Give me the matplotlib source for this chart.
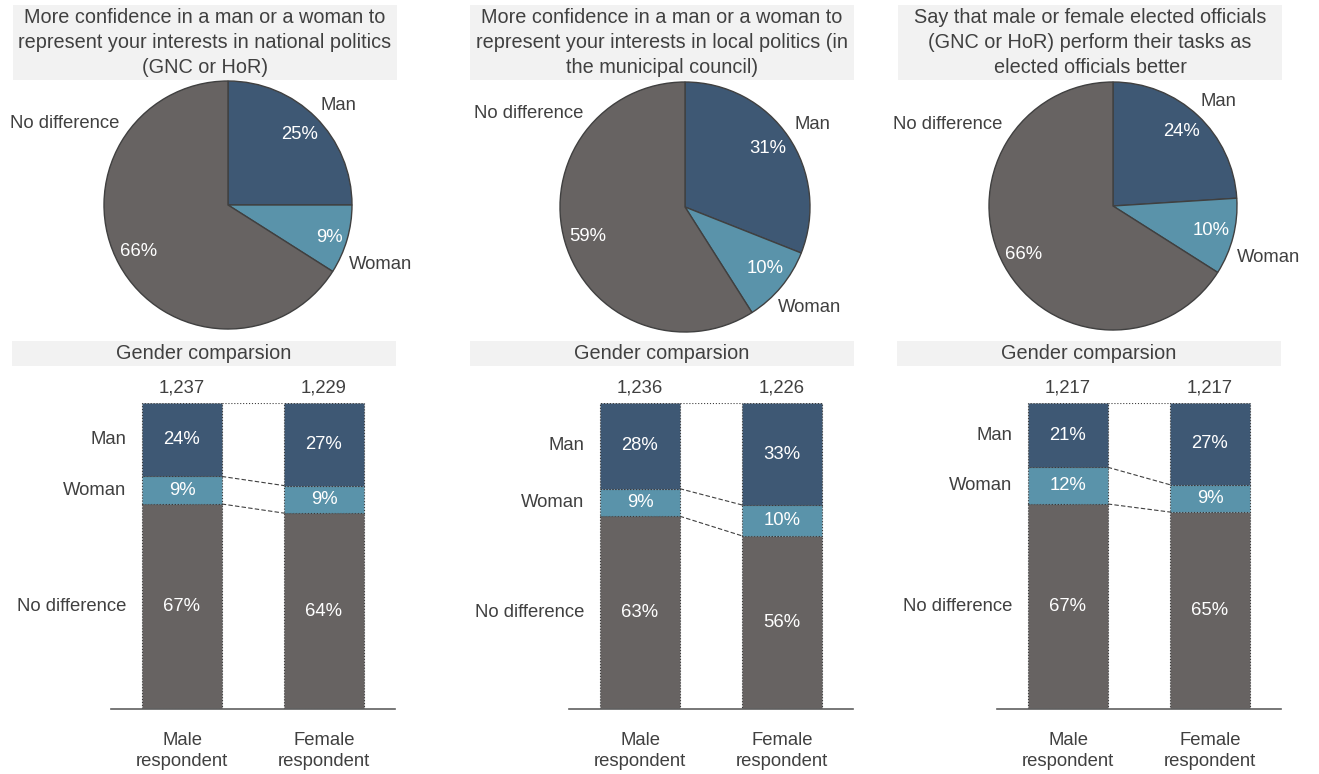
import matplotlib
matplotlib.use("Agg")
import matplotlib.pyplot as plt
from matplotlib.patches import Rectangle
import numpy as np

# ---------------- data ----------------
pie_titles = [
    "More confidence in a man or a woman to\nrepresent your interests in national politics\n(GNC or HoR)",
    "More confidence in a man or a woman to\nrepresent your interests in local politics (in\nthe municipal council)",
    "Say that male or female elected officials\n(GNC or HoR) perform their tasks as\nelected officials better",
]
bar_title = "Gender comparsion"
categories = ["Man", "Woman", "No difference"]
pie_man = [25, 31, 24]
pie_woman = [9, 10, 10]
pie_nodiff = [66, 59, 66]

groups = ["Male\nrespondent", "Female\nrespondent"]
male_man = [24, 28, 21]
male_woman = [9, 9, 12]
male_nodiff = [67, 63, 67]
female_man = [27, 33, 27]
female_woman = [9, 10, 9]
female_nodiff = [64, 56, 65]
male_n = ["1,237", "1,236", "1,217"]
female_n = ["1,229", "1,226", "1,217"]

# ---------------- style ----------------
W, H = 1319, 774
C_MAN = "#3e5874"
C_WOMAN = "#5a93aa"
C_NODIFF = "#676362"
TXT = "#404040"
BOX = "#f2f2f2"
FS = 13.3
plt.rcParams["font.family"] = ["Liberation Sans", "DejaVu Sans"]

fig = plt.figure(figsize=(W / 100, H / 100), dpi=100)

def fig_box(x0, y0, x1, y1):
    fig.add_artist(Rectangle((x0 / W, 1 - y1 / H), (x1 - x0) / W, (y1 - y0) / H,
                             transform=fig.transFigure, facecolor=BOX,
                             edgecolor="none", zorder=0))

# layout (pixels)
title_boxes = [(13, 5, 397), (470, 5, 854), (898, 5, 1282)]
bar_boxes = [(12, 341, 396), (470, 341, 854), (897, 341, 1281)]
pie_centers = [(228, 205, 124), (685, 207, 125), (1113, 206, 124)]
axis_x = [111, 569, 997]
bar_bottom, bar_top = 709, 403

# label positions in pie data coords: (name pos, pct pos) for Man, Woman, No difference
pie_label_pos = [
    [((0.887, 0.806), (0.58, 0.565)), ((1.234, -0.476), (0.815, -0.266)), ((-1.32, 0.66), (-0.718, -0.379))],
    [((1.016, 0.656), (0.664, 0.464)), ((1.0, -0.808), (0.64, -0.496)), ((-1.248, 0.744), (-0.776, -0.24))],
    [((0.847, 0.839), (0.556, 0.597)), ((1.258, -0.419), (0.79, -0.2)), ((-1.331, 0.661), (-0.718, -0.395))],
]

for i in range(3):
    # ----- pie title -----
    x0, y0, x1 = title_boxes[i]
    fig_box(x0, y0, x1, 80)
    fig.text((x0 + x1) / 2 / W, 1 - 42.5 / H, pie_titles[i], ha="center", va="center",
             fontsize=14.3, color=TXT, linespacing=1.38)

    # ----- pie -----
    cx, cy, r = pie_centers[i]
    ax = fig.add_axes([(cx - r) / W, 1 - (cy + r) / H, 2 * r / W, 2 * r / H])
    vals = [pie_man[i], pie_woman[i], pie_nodiff[i]]
    ax.pie(vals, colors=[C_MAN, C_WOMAN, C_NODIFF], startangle=90, counterclock=False,
           wedgeprops=dict(edgecolor="#404040", linewidth=1.0))
    ax.set_xlim(-1, 1)
    ax.set_ylim(-1, 1)
    ax.set_aspect("equal", adjustable="box")
    ax.axis("off")
    for k, cat in enumerate(categories):
        (lx, ly), (px, py) = pie_label_pos[i][k]
        ax.text(lx, ly, cat, ha="center", va="center", fontsize=FS, color=TXT, clip_on=False)
        ax.text(px, py, f"{vals[k]}%", ha="center", va="center", fontsize=FS, color="white")

    # ----- bar title -----
    bx0, by0, bx1 = bar_boxes[i]
    fig_box(bx0, by0, bx1, 366)
    fig.text((bx0 + bx1) / 2 / W, 1 - 353.5 / H, bar_title, ha="center", va="center",
             fontsize=14.3, color=TXT)

    # ----- stacked bars -----
    axb = fig.add_axes([axis_x[i] / W, 1 - bar_bottom / H, 284 / W, (bar_bottom - bar_top) / H])
    x = np.arange(2)
    man = np.array([male_man[i], female_man[i]], dtype=float)
    wom = np.array([male_woman[i], female_woman[i]], dtype=float)
    nod = np.array([male_nodiff[i], female_nodiff[i]], dtype=float)
    tot = man + wom + nod
    man_s, wom_s, nod_s = man / tot * 100, wom / tot * 100, nod / tot * 100
    width = 0.56
    kw = dict(width=width, edgecolor="#3a3a3a", linewidth=0.8, linestyle=":")
    axb.bar(x, nod_s, color=C_NODIFF, **kw)
    axb.bar(x, wom_s, bottom=nod_s, color=C_WOMAN, **kw)
    axb.bar(x, man_s, bottom=nod_s + wom_s, color=C_MAN, **kw)

    # connector lines
    b1 = nod_s
    b2 = nod_s + wom_s
    b3 = nod_s + wom_s + man_s
    xl = [x[0] + width / 2, x[1] - width / 2]
    axb.plot(xl, b1, color="#404040", lw=0.8, ls=(0, (4, 2)))
    axb.plot(xl, b2, color="#404040", lw=0.8, ls=(0, (4, 2)))
    axb.plot(xl, b3, color="#404040", lw=0.8, ls=":")

    # value labels
    for j in range(2):
        axb.text(x[j], nod_s[j] / 2, f"{int(nod[j])}%", ha="center", va="center", fontsize=FS, color="white")
        axb.text(x[j], b1[j] + wom_s[j] / 2, f"{int(wom[j])}%", ha="center", va="center", fontsize=FS, color="white")
        axb.text(x[j], b2[j] + man_s[j] / 2, f"{int(man[j])}%", ha="center", va="center", fontsize=FS, color="white")
        axb.text(x[j], -7.5, groups[j], ha="center", va="top", fontsize=FS, color=TXT, linespacing=1.3)
    axb.text(x[0], 102.2, male_n[i], ha="center", va="bottom", fontsize=FS, color=TXT)
    axb.text(x[1], 102.2, female_n[i], ha="center", va="bottom", fontsize=FS, color=TXT)

    # row labels beside male bar
    lx = x[0] - width / 2 - 0.11
    axb.text(lx, b2[0] + man_s[0] / 2, categories[0], ha="right", va="center", fontsize=FS, color=TXT)
    axb.text(lx, b1[0] + wom_s[0] / 2, categories[1], ha="right", va="center", fontsize=FS, color=TXT)
    axb.text(lx, nod_s[0] / 2, categories[2], ha="right", va="center", fontsize=FS, color=TXT)

    axb.set_xlim(-0.5, 1.5)
    axb.set_ylim(0, 100)
    for s in ["top", "right", "left"]:
        axb.spines[s].set_visible(False)
    axb.spines["bottom"].set_color("#606060")
    axb.spines["bottom"].set_linewidth(1.2)
    axb.set_xticks([])
    axb.set_yticks([])
    axb.patch.set_alpha(0)

fig.savefig("out.png", dpi=100, facecolor="white")
